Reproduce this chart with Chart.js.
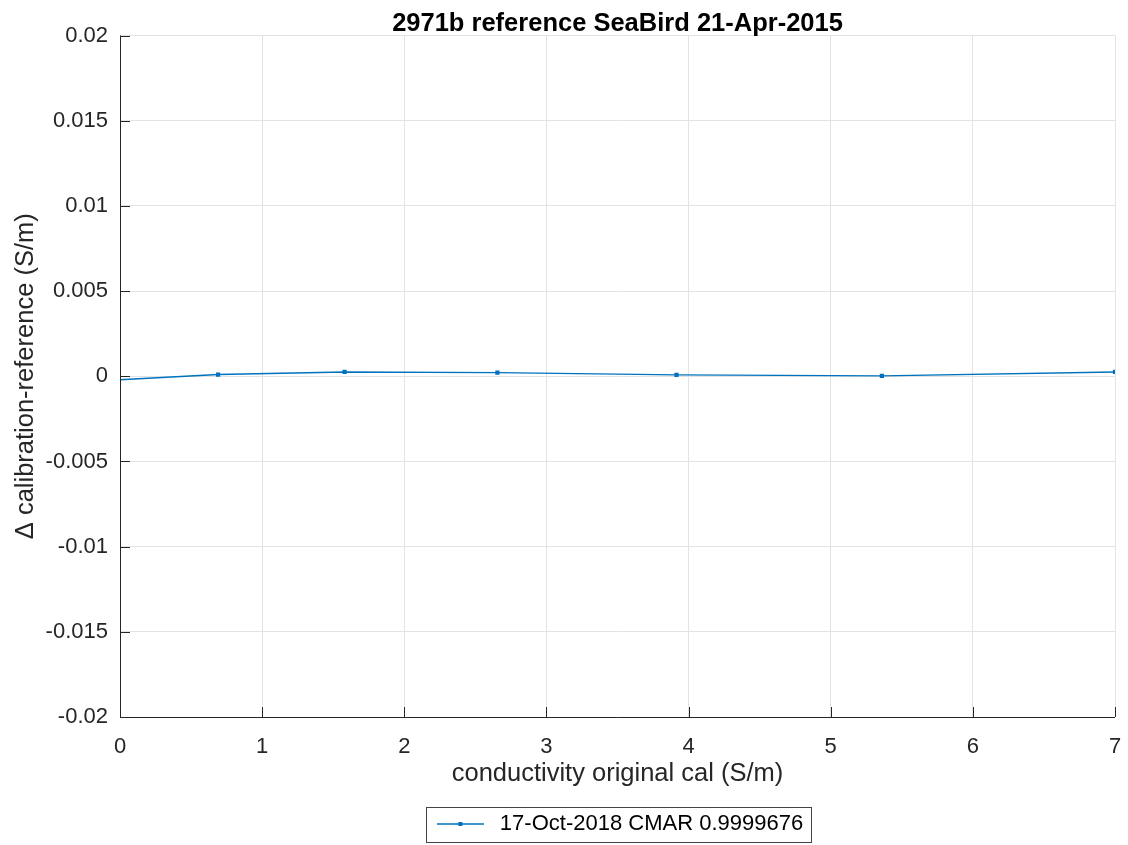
<!DOCTYPE html>
<html>
<head>
<meta charset="utf-8">
<script src="https://cdn.jsdelivr.net/npm/chart.js@4"></script>
<style>
  html, body { margin: 0; padding: 0; background: #fff; }
  #wrap { width: 1128px; height: 845px; }
</style>
</head>
<body>
<div id="wrap"><canvas id="myChart" width="1128" height="845"></canvas></div>
<script>
// conductivity (S/m) vs calibration minus reference (S/m)
let conductivity = [-0.04, 0.69, 1.58, 2.655, 3.915, 5.36, 7.0];
let delta = [-0.00022, 0.0001, 0.00025, 0.00021, 0.00008, 0.00002, 0.00025];
let xTicks = [0, 1, 2, 3, 4, 5, 6, 7];
let yTicks = [-0.02, -0.015, -0.01, -0.005, 0, 0.005, 0.01, 0.015, 0.02];

const seriesLabel = '17-Oct-2018 CMAR 0.9999676';
const blue = '#0072BD';
const axisColor = '#262626';
const font = "'Liberation Sans', Arial, Helvetica, sans-serif";

let points = [];
for (let i = 0; i < conductivity.length; i++) {
	points.push({x: conductivity[i], y: delta[i]});
}

// legend sample: short line with a dot in the middle
const sample = document.createElement('canvas');
sample.width = 47;
sample.height = 8;
let sctx = sample.getContext('2d');
sctx.strokeStyle = blue;
sctx.lineWidth = 1.5;
sctx.beginPath();
sctx.moveTo(0, 4);
sctx.lineTo(47, 4);
sctx.stroke();
sctx.fillStyle = blue;
sctx.fillRect(21.5, 2, 4, 4);

// title and legend sit centred over the plot area, not the whole canvas
const centrePlugin = {
	id: 'centrePlugin',
	afterLayout(chart) {
		const a = chart.chartArea;
		const mid = (a.left + a.right) / 2;
		[chart.titleBlock, chart.legend].forEach(b => {
			if (!b) return;
			const d = mid - (b.left + b.right) / 2;
			b.left += d;
			b.right += d;
			(b.legendHitBoxes || []).forEach(h => { h.left += d; });
		});
	}
};

// left/bottom axis lines with inward ticks, legend frame
const axesPlugin = {
	id: 'axesPlugin',
	afterDatasetsDraw(chart) {
		const ctx = chart.ctx;
		const a = chart.chartArea;
		const xs = chart.scales.x, ys = chart.scales.y;
		ctx.save();
		ctx.strokeStyle = axisColor;
		ctx.lineWidth = 1;
		ctx.beginPath();
		ctx.moveTo(a.left + 0.5, a.top);
		ctx.lineTo(a.left + 0.5, a.bottom + 0.5);
		ctx.lineTo(a.right, a.bottom + 0.5);
		yTicks.forEach(v => {
			let py = Math.round(ys.getPixelForValue(v)) + 0.5;
			ctx.moveTo(a.left, py);
			ctx.lineTo(a.left + 10, py);
		});
		xTicks.forEach(v => {
			let px = Math.round(xs.getPixelForValue(v)) + 0.5;
			ctx.moveTo(px, a.bottom);
			ctx.lineTo(px, a.bottom - 10);
		});
		ctx.stroke();
		ctx.restore();
	},
	afterDraw(chart) {
		const ctx = chart.ctx;
		const hb = chart.legend.legendHitBoxes[0];
		if (!hb) return;
		ctx.save();
		ctx.strokeStyle = '#444';
		ctx.lineWidth = 1;
		let cy = hb.top + hb.height / 2;
		ctx.strokeRect(Math.round(hb.left - 6) + 0.5, Math.round(cy - 17) + 0.5, Math.round(hb.width + 14), 35);
		ctx.restore();
	}
};

const data = {
	datasets: [{
		label: seriesLabel,
		data: points,
		borderColor: blue,
		backgroundColor: blue,
		borderWidth: 1.4,
		pointRadius: 3,
		pointStyle: 'rect',
		pointBorderWidth: 0,
		pointHoverRadius: 3,
		tension: 0,
		clip: 0
	}]
};

const config = {
	type: 'line',
	data: data,
	plugins: [centrePlugin, axesPlugin],
	options: {
		responsive: false,
		animation: false,
		layout: {padding: {left: 0, right: 13, top: 0, bottom: 0}},
		plugins: {
			title: {
				display: true,
				text: '2971b reference SeaBird 21-Apr-2015',
				color: '#000',
				font: {family: font, size: 25.5, weight: 'bold', lineHeight: 1},
				padding: {top: 11, bottom: -1}
			},
			legend: {
				position: 'bottom',
				labels: {
					usePointStyle: true,
					pointStyle: sample,
					pointStyleWidth: 57,
					color: '#000',
					font: {family: font, size: 22},
					padding: 12
				}
			},
			tooltip: {enabled: false}
		},
		scales: {
			x: {
				type: 'linear',
				min: 0,
				max: 7,
				afterBuildTicks: s => { s.ticks = xTicks.map(v => ({value: v})); },
				afterFit: s => { s.height = 84; s.paddingLeft = 0; s.paddingRight = 0; },
				grid: {color: '#e3e3e3', drawTicks: false, lineWidth: 1},
				border: {display: false},
				ticks: {color: axisColor, font: {family: font, size: 22}, padding: 17},
				title: {
					display: true,
					text: 'conductivity original cal (S/m)',
					color: axisColor,
					font: {family: font, size: 25.5},
					padding: {top: 12, bottom: 12}
				}
			},
			y: {
				type: 'linear',
				min: -0.02,
				max: 0.02,
				afterBuildTicks: s => { s.ticks = yTicks.map(v => ({value: v})); },
				afterFit: s => { s.width = 120; },
				grid: {color: '#e3e3e3', drawTicks: false, lineWidth: 1},
				border: {display: false},
				ticks: {
					color: axisColor,
					font: {family: font, size: 22},
					padding: 12,
					callback: v => String(Number(v.toFixed(3)))
				},
				title: {
					display: true,
					text: '\u0394 calibration-reference (S/m)',
					color: axisColor,
					font: {family: font, size: 25.5},
					padding: {top: 11, bottom: 11}
				}
			}
		}
	}
};

const myChart = new Chart(document.getElementById('myChart'), config);
</script>
</body>
</html>
